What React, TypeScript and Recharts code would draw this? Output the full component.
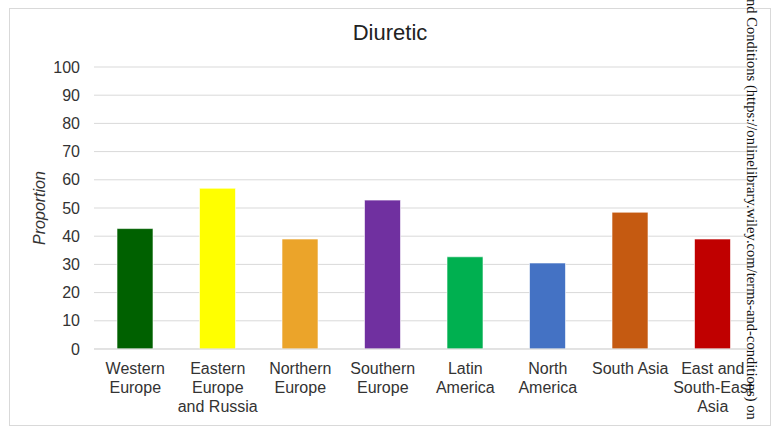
import { BarChart, Bar, XAxis, YAxis, CartesianGrid, Cell } from 'recharts'

const regions = [
  'Western\nEurope',
  'Eastern\nEurope\nand Russia',
  'Northern\nEurope',
  'Southern\nEurope',
  'Latin\nAmerica',
  'North\nAmerica',
  'South Asia',
  'East and\nSouth-East\nAsia',
]
const proportion = [42.7, 57, 39, 52.8, 32.7, 30.5, 48.5, 39]
const barColors = ['#006100', '#ffff00', '#eba42a', '#7030a0', '#00b050', '#4472c4', '#c55a11', '#c00000']
const yTicks = [0, 10, 20, 30, 40, 50, 60, 70, 80, 90, 100]

const data = regions.map((region, i) => ({ region, value: proportion[i] }))

const font = '"Liberation Sans", Arial, sans-serif'

function RegionTick({ x, y, payload }: any) {
  const lines = String(payload.value).split('\n')
  return (
    <text x={x} y={y} textAnchor="middle" fill="#333" fontSize={16} fontFamily={font}>
      {lines.map((l, i) => (
        <tspan key={i} x={x} dy={i === 0 ? 17 : 19}>
          {l}
        </tspan>
      ))}
    </text>
  )
}

export default function App() {
  return (
    <div style={{ position: 'fixed', left: 0, top: 0, width: 773, height: 427, background: '#fff', overflow: 'hidden' }}>
      <div
        style={{
          position: 'absolute',
          left: 9,
          top: 8,
          width: 760,
          height: 416,
          border: '1px solid #d9d9d9',
        }}
      />
      <div
        style={{
          position: 'absolute',
          left: 9,
          width: 762,
          top: 20,
          textAlign: 'center',
          fontFamily: font,
          fontSize: 22,
          color: '#222',
        }}
      >
        Diuretic
      </div>
      <div
        style={{
          position: 'absolute',
          left: 40,
          top: 208,
          transform: 'translate(-50%, -50%) rotate(-90deg)',
          fontFamily: font,
          fontStyle: 'italic',
          fontSize: 16,
          color: '#333',
          whiteSpace: 'nowrap',
        }}
      >
        Proportion
      </div>
      <div style={{ position: 'absolute', left: 0, top: 0 }}>
        <BarChart width={773} height={427} data={data} margin={{ top: 67, right: 19, bottom: 48, left: 0 }}>
          <CartesianGrid vertical={false} stroke="#d9d9d9" />
          <XAxis
            dataKey="region"
            height={30}
            interval={0}
            tickLine={false}
            axisLine={{ stroke: '#d9d9d9' }}
            tick={<RegionTick />}
          />
          <YAxis
            width={94}
            domain={[0, 100]}
            ticks={yTicks}
            interval={0}
            tickLine={false}
            axisLine={false}
            tickMargin={8}
            tick={{ fill: '#333', fontSize: 16, fontFamily: font }}
          />
          <Bar dataKey="value" barSize={36} isAnimationActive={false} stroke="#ffffff" strokeOpacity={0.6}>
            {data.map((d, i) => (
              <Cell key={d.region} fill={barColors[i]} />
            ))}
          </Bar>
        </BarChart>
      </div>
      <div
        style={{
          position: 'absolute',
          left: 742,
          top: -1,
          writingMode: 'vertical-rl',
          fontFamily: '"Liberation Serif", "Times New Roman", serif',
          fontSize: 14.6,
          color: '#111',
          whiteSpace: 'nowrap',
          lineHeight: '20px',
        }}
      >
        nd Conditions (https://onlinelibrary.wiley.com/terms-and-conditions) on
      </div>
    </div>
  )
}
